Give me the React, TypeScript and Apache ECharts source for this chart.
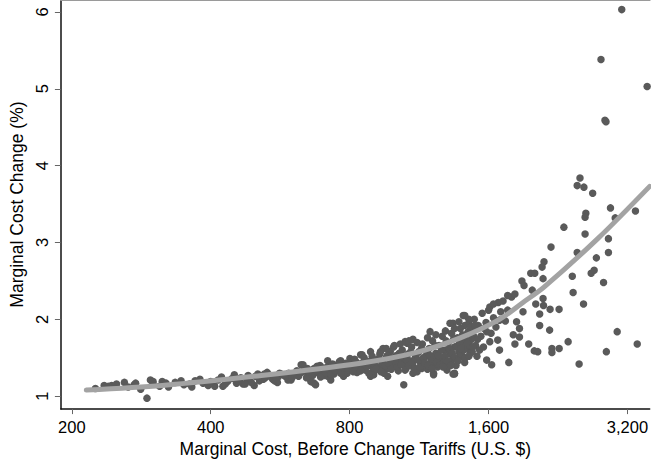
import React, { useEffect, useRef } from "react";
import * as echarts from "echarts";

// Marginal cost before tariff change (U.S. $) vs marginal cost change (%)
const scatterPoints: [number, number][] = [
  // low-cost range
  [235, 1.14], [244, 1.14], [260, 1.18], [273, 1.15], [282, 1.09], [296, 1.21], [291, 0.975],
  [314, 1.19], [324, 1.12], [364, 1.12], [379, 1.22], [408, 1.13], [422, 1.25], [425, 1.13],
  [450, 1.28], [470, 1.16], [482, 1.27], [497, 1.14], [506, 1.29], [530, 1.31], [558, 1.18],
  [564, 1.30], [588, 1.21], [628, 1.41], [648, 1.36], [670, 1.17], [717, 1.46], [717, 1.26],
  [753, 1.41], [801, 1.49], [845, 1.54], [888, 1.26], [933, 1.58], [996, 1.64], [1048, 1.15],
  [1066, 1.69], [1216, 1.30], [1340, 1.95], [1350, 1.30], [1195, 1.84],
  [225, 1.10], [240, 1.13], [250, 1.16], [265, 1.12], [275, 1.17], [300, 1.16], [310, 1.13],
  [335, 1.18], [350, 1.15], [370, 1.20], [385, 1.17], [395, 1.14], [415, 1.21], [435, 1.19],
  [445, 1.23], [455, 1.17], [465, 1.24], [480, 1.21], [500, 1.26], [510, 1.20], [525, 1.24],
  [535, 1.28], [545, 1.22],
  [300, 1.19], [320, 1.17], [345, 1.20], [360, 1.16], [400, 1.19], [430, 1.16], [460, 1.20],
  [490, 1.18], [520, 1.22], [540, 1.25], [550, 1.20],
  // middle range
  [475, 1.16], [523, 1.29], [568, 1.29], [597, 1.21], [634, 1.41], [659, 1.19], [675, 1.15],
  [680, 1.39], [728, 1.21], [765, 1.46], [776, 1.26], [830, 1.36], [851, 1.54], [888, 1.58],
  [902, 1.28], [945, 1.62], [951, 1.39], [967, 1.26], [1009, 1.43], [1055, 1.71], [1097, 1.74],
  [1097, 1.30], [1146, 1.36], [1216, 1.28], [1256, 1.49], [1301, 1.41], [1320, 1.95], [1340, 1.29],
  [1387, 1.56], [1410, 2.05], [1421, 1.92], [1410, 1.73],
  [560, 1.25], [575, 1.28], [590, 1.30], [605, 1.27], [615, 1.33], [625, 1.30], [640, 1.35],
  [650, 1.28], [660, 1.32], [670, 1.36], [685, 1.30], [690, 1.40], [700, 1.34], [705, 1.27],
  [715, 1.38], [725, 1.32], [735, 1.42], [740, 1.29], [750, 1.36], [760, 1.45], [770, 1.33],
  [780, 1.40], [790, 1.30], [800, 1.44], [810, 1.36], [820, 1.48], [830, 1.31], [840, 1.42],
  [850, 1.38], [860, 1.50], [865, 1.34], [875, 1.45], [885, 1.40], [895, 1.52], [900, 1.33],
  [910, 1.47], [920, 1.38], [930, 1.55], [940, 1.43], [950, 1.30], [960, 1.50], [970, 1.36],
  [980, 1.58], [990, 1.44], [1000, 1.39], [1010, 1.53], [1020, 1.33], [1030, 1.48], [1040, 1.60],
  [1050, 1.42], [1060, 1.36], [1070, 1.55], [1080, 1.46], [1090, 1.64], [1100, 1.38], [1110, 1.50],
  [1120, 1.32], [1130, 1.58], [1140, 1.44], [1150, 1.68], [1160, 1.40], [1170, 1.52], [1180, 1.35],
  [1190, 1.62], [1200, 1.47], [1210, 1.72], [1220, 1.42], [1230, 1.56], [1240, 1.38], [1250, 1.66],
  [1260, 1.50], [1270, 1.78], [1280, 1.45], [1290, 1.60], [1300, 1.34], [1310, 1.70], [1320, 1.55],
  [1330, 1.82], [1340, 1.48], [1350, 1.64], [1360, 1.40], [1370, 1.76], [1380, 1.58], [1390, 1.88],
  [1400, 1.52], [1410, 1.68], [1420, 1.44], [1430, 1.80], [1440, 1.62], [1450, 1.95], [1460, 1.56],
  [1470, 1.74], [1480, 1.86], [1490, 2.00], [1500, 1.66], [1510, 1.52], [1520, 1.92], [1540, 1.78],
  [1550, 2.08], [1560, 1.64], [1580, 1.96], [1600, 2.12], [1620, 1.82], [1640, 2.02], [1660, 1.90],
  [1700, 2.10], [1720, 2.24], [1740, 1.98],
  [555, 1.23], [580, 1.26], [600, 1.24], [610, 1.29], [620, 1.26], [632, 1.32], [645, 1.24],
  [655, 1.30], [665, 1.27], [678, 1.33], [692, 1.25], [698, 1.37], [710, 1.31], [720, 1.35],
  [730, 1.28], [745, 1.33], [755, 1.39], [765, 1.30], [775, 1.37], [785, 1.43], [795, 1.34],
  [805, 1.40], [815, 1.32], [825, 1.45], [835, 1.37], [845, 1.33], [855, 1.44], [870, 1.39],
  [880, 1.30], [890, 1.46], [905, 1.41], [915, 1.35], [925, 1.49], [935, 1.32], [945, 1.46],
  [955, 1.40], [965, 1.53], [975, 1.42], [985, 1.35], [995, 1.50], [1005, 1.45], [1015, 1.38],
  [1025, 1.56], [1035, 1.41], [1045, 1.51], [1055, 1.34], [1065, 1.47], [1075, 1.40], [1085, 1.58],
  [1095, 1.44], [1105, 1.35], [1115, 1.54], [1125, 1.47], [1135, 1.38], [1145, 1.62], [1155, 1.50],
  [1165, 1.43], [1175, 1.58], [1185, 1.40], [1195, 1.53], [1205, 1.36], [1215, 1.48], [1225, 1.66],
  [1235, 1.45], [1245, 1.53], [1255, 1.41], [1265, 1.60], [1275, 1.38], [1285, 1.52], [1295, 1.72],
  [1305, 1.46], [1315, 1.62], [1325, 1.40], [1335, 1.56], [1345, 1.75], [1355, 1.50], [1365, 1.65],
  [1375, 1.46], [1385, 1.70], [1395, 1.55], [1405, 1.80], [1415, 1.60], [1425, 1.50], [1435, 1.72],
  [1445, 1.84], [1455, 1.66], [1465, 1.90], [1475, 1.58], [1485, 1.78], [1495, 1.92],
  [960, 1.62], [1000, 1.66], [1030, 1.68], [1075, 1.72], [1120, 1.70], [1180, 1.76], [1230, 1.80],
  [1290, 1.85], [1350, 1.88], [1380, 1.97], [1450, 2.00],
  // high-cost range
  [2525, 3.84], [2490, 3.74], [2575, 3.72], [2690, 3.64], [2940, 3.45], [3330, 3.41], [3010, 3.32],
  [2600, 3.38], [2590, 3.33], [2330, 3.20], [2590, 3.11], [2910, 3.05], [2185, 2.94], [2490, 2.87],
  [2910, 2.87], [2740, 2.80], [2110, 2.75], [2090, 2.68], [1975, 2.60], [2015, 2.60], [2670, 2.60],
  [2710, 2.64], [2430, 2.56], [2100, 2.53], [1890, 2.50], [2840, 2.48], [1910, 2.44], [1990, 2.38],
  [2440, 2.35], [2570, 2.20], [2100, 2.27], [1760, 2.31], [1795, 2.29], [1825, 2.33], [1680, 2.22],
  [1610, 2.16], [1900, 2.10], [2025, 2.20], [2105, 2.18], [2175, 2.13], [2275, 2.13], [2065, 2.07],
  [1840, 1.97], [1867, 1.88], [2065, 1.92], [2170, 1.86], [1810, 1.80], [1867, 1.77], [1825, 1.68],
  [1955, 1.68], [2010, 1.59], [2045, 1.58], [2195, 1.62], [2276, 1.62], [2380, 1.71], [2195, 1.57],
  [2514, 1.42], [2880, 1.58], [3040, 1.84], [3360, 1.68], [1770, 1.44], [1690, 1.60], [1675, 1.73],
  [1610, 1.71], [1585, 1.84], [1565, 1.88], [1515, 1.74], [1530, 1.60], [1585, 1.47], [1625, 1.41],
  [1440, 1.69], [1450, 1.52], [1480, 1.64], [1395, 1.62], [1350, 1.29], [1421, 2.05], [1640, 2.20],
  [1760, 2.12], [1690, 1.99],
  // outliers
  [3110, 6.03], [2804, 5.38], [2860, 4.59], [2875, 4.57], [3530, 5.03],
];

const fitCurve: [number, number][] = [
  [215, 1.08], [314, 1.14], [515, 1.27], [845, 1.43], [1100, 1.56], [1390, 1.76],
  [1690, 2.0], [1900, 2.22], [2110, 2.42], [2770, 3.06], [3575, 3.73],
];

const xTicks = [200, 400, 800, 1600, 3200];
const yTicks = [1, 2, 3, 4, 5, 6];

const xTitle = "Marginal Cost, Before Change Tariffs (U.S. $)";
const yTitle = "Marginal Cost Change (%)";

const FONT = "'Liberation Sans', Arial, sans-serif";

export default function App() {
  const ref = useRef<HTMLDivElement>(null);

  useEffect(() => {
    if (!ref.current) return;
    const chart = echarts.init(ref.current, undefined, { renderer: "svg" });
    chart.setOption({
      animation: false,
      backgroundColor: "#ffffff",
      grid: { left: 58, right: 0, top: 0, bottom: 50, containLabel: false },
      xAxis: [
        {
          type: "log",
          logBase: 2,
          min: 189.4,
          max: 3575,
          name: xTitle,
          nameLocation: "middle",
          nameGap: 26,
          nameTextStyle: { fontFamily: FONT, fontSize: 17.5, color: "#000" },
          axisLine: { show: true, onZero: false, lineStyle: { color: "#111", width: 1.5 } },
          axisTick: { show: true, length: 5, customValues: xTicks, lineStyle: { color: "#666", width: 1 } },
          axisLabel: {
            customValues: xTicks,
            margin: 9,
            fontFamily: FONT,
            fontSize: 16.5,
            color: "#000",
            formatter: (v: number) => Math.round(v).toLocaleString("en-US"),
          },
          splitLine: { show: false },
          minorTick: { show: false },
        },
        {
          type: "value",
          position: "top",
          min: 0,
          max: 1,
          axisLine: { show: true, lineStyle: { color: "#9a9a9a", width: 2 } },
          axisTick: { show: false },
          axisLabel: { show: false },
          splitLine: { show: false },
        },
      ],
      yAxis: {
        type: "value",
        min: 0.8325,
        max: 6.155,
        name: yTitle,
        nameLocation: "middle",
        nameGap: 30,
        nameTextStyle: { fontFamily: FONT, fontSize: 17.5, color: "#000" },
        axisLine: { show: true, onZero: false, lineStyle: { color: "#111", width: 1.5 } },
        axisTick: { show: true, length: 6, customValues: yTicks, lineStyle: { color: "#666", width: 1 } },
        axisLabel: {
          customValues: yTicks,
          rotate: 90,
          margin: 10,
          fontFamily: FONT,
          fontSize: 16.5,
          color: "#000",
        },
        splitLine: { show: false },
      },
      series: [
        {
          type: "scatter",
          xAxisIndex: 0,
          data: scatterPoints,
          symbol: "circle",
          symbolSize: 7.5,
          itemStyle: { color: "#5a5a5a", opacity: 1 },
          z: 2,
        },
        {
          type: "line",
          xAxisIndex: 0,
          data: fitCurve,
          showSymbol: false,
          symbol: "none",
          smooth: 0.3,
          lineStyle: { color: "#a3a3a3", width: 5, cap: "round", join: "round" },
          z: 3,
        },
      ],
    });
    return () => chart.dispose();
  }, []);

  return (
    <div
      ref={ref}
      style={{ position: "fixed", left: 0, top: 0, width: 651, height: 463 }}
    />
  );
}
